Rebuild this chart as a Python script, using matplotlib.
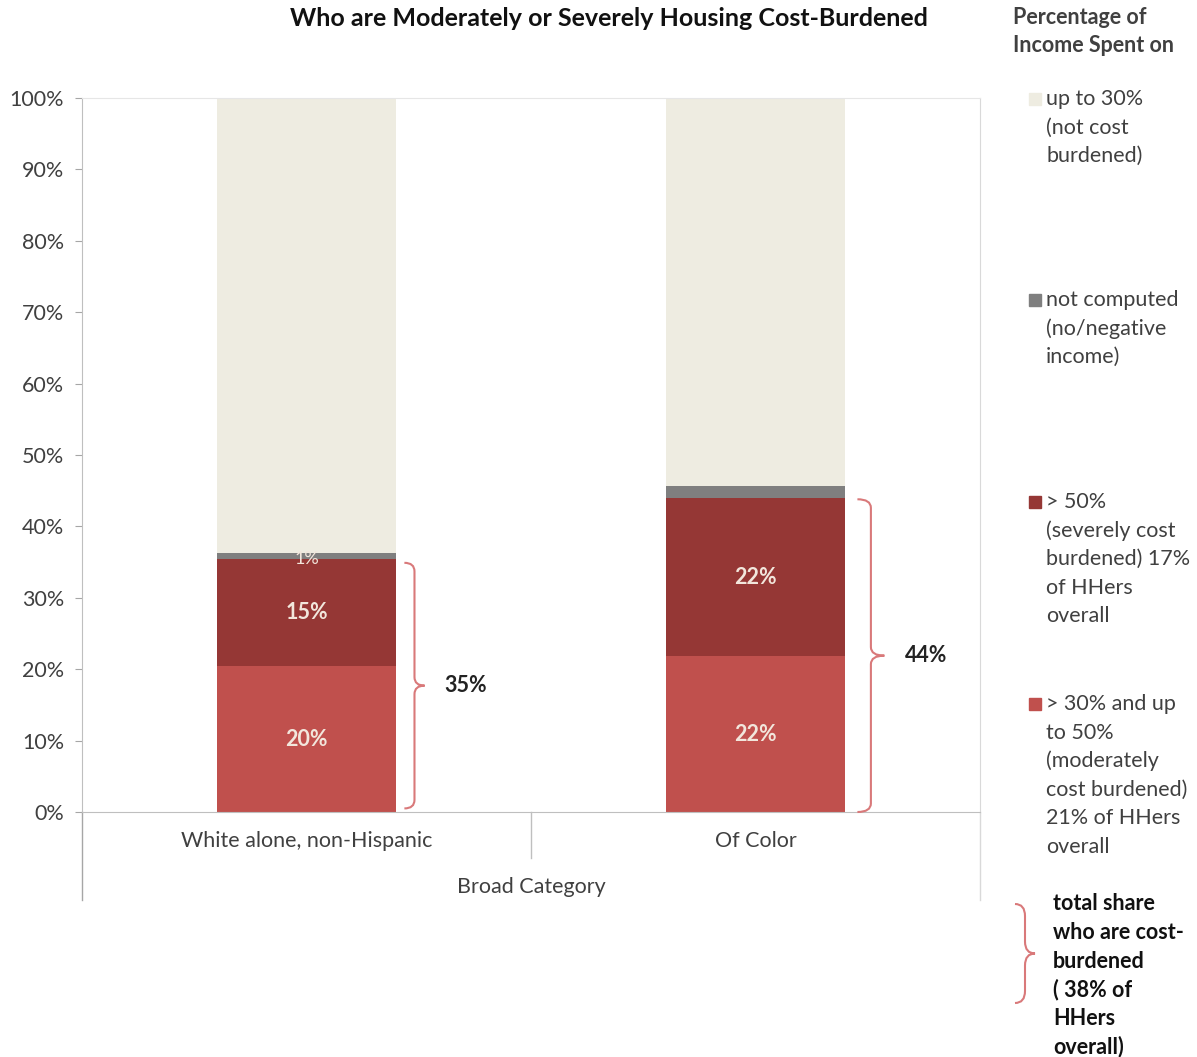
import matplotlib.pyplot as plt
from matplotlib.path import Path
from matplotlib.patches import PathPatch
import numpy as np

# ---------------- data ----------------
categories = ['White alone, non-Hispanic', 'Of Color']
moderate = [20.4, 21.8]      # > 30% and up to 50%
severe = [15.0, 22.2]        # > 50%
not_computed = [0.9, 1.7]
not_burdened = [63.7, 54.3]  # up to 30%
mod_labels = ['20%', '22%']
sev_labels = ['15%', '22%']
nc_labels = ['1%', '']
total_labels = ['35%', '44%']
total_burdened = [34.9, 43.8]

c_beige = '#eeece1'
c_gray = '#7f7f7f'
c_dark = '#953735'
c_red = '#c0504d'
c_brace = '#d9797a'
c_text = '#404040'
c_lab = '#f2e6dc'

plt.rcParams['font.family'] = ['Lato', 'DejaVu Sans']
fs = 15.5

fig = plt.figure(figsize=(11.97, 10.57), dpi=100)
W, H = 1197, 1057
ax = fig.add_axes([82 / W, 1 - 812 / H, 898 / W, 714 / H])

x = np.array([0.5, 1.5])
bw = 0.4
ax.bar(x, moderate, bw, color=c_red, zorder=2)
b1 = np.array(moderate)
ax.bar(x, severe, bw, bottom=b1, color=c_dark, zorder=2)
b2 = b1 + np.array(severe)
ax.bar(x, not_computed, bw, bottom=b2, color=c_gray, zorder=2)
b3 = b2 + np.array(not_computed)
ax.bar(x, not_burdened, bw, bottom=b3, color=c_beige, zorder=2)

for i in range(2):
    ax.text(x[i], moderate[i] / 2, mod_labels[i], ha='center', va='center',
            color=c_lab, fontsize=fs, fontweight='bold', zorder=3)
    ax.text(x[i], b1[i] + severe[i] / 2, sev_labels[i], ha='center', va='center',
            color=c_lab, fontsize=fs, fontweight='bold', zorder=3)
    if nc_labels[i]:
        ax.text(x[i], b2[i] + 0.1, nc_labels[i], ha='center', va='center',
                color=c_lab, fontsize=13, zorder=3)


def brace_path(x0, w, y0, y1, r):
    ym = (y0 + y1) / 2
    xm = x0 + w / 2
    verts = [(x0, y1), (xm, y1), (xm, y1 - r),
             (xm, ym + r),
             (xm, ym), (x0 + w, ym),
             (xm, ym), (xm, ym - r),
             (xm, y0 + r),
             (xm, y0), (x0, y0)]
    codes = [Path.MOVETO, Path.CURVE3, Path.CURVE3,
             Path.LINETO,
             Path.CURVE3, Path.CURVE3,
             Path.CURVE3, Path.CURVE3,
             Path.LINETO,
             Path.CURVE3, Path.CURVE3]
    return Path(verts, codes)


# brace positions next to bars (data units)
brace_x = [0.718, 1.727]
brace_w = [0.045, 0.06]
brace_bottom = [0.5, 0.0]
for i in range(2):
    p = brace_path(brace_x[i], brace_w[i], brace_bottom[i], total_burdened[i], 1.2)
    ax.add_patch(PathPatch(p, fill=False, ec=c_brace, lw=1.5, clip_on=False, zorder=3))
    ax.text(brace_x[i] + brace_w[i] + 0.045, (brace_bottom[i] + total_burdened[i]) / 2,
            total_labels[i], ha='left', va='center', fontsize=fs,
            fontweight='bold', color='#222222')

ax.set_xlim(0, 2)
ax.set_ylim(0, 100)
ax.set_yticks(np.arange(0, 101, 10))
ax.set_yticklabels([f'{v}%' for v in range(0, 101, 10)], fontsize=fs, color=c_text)
ax.set_xticks([])
ax.tick_params(axis='y', length=5, color='#a6a6a6', pad=8)
for s in ['left', 'bottom', 'top', 'right']:
    ax.spines[s].set_color('#bfbfbf')
ax.spines['top'].set_color('#e6e6e6')
ax.spines['right'].set_color('#d9d9d9')

# category axis lines below the plot
trans = ax.transAxes
drop = (900 - 812) / 714
ax.plot([0, 0], [0, -drop], color='#a6a6a6', lw=1, transform=trans, clip_on=False)
ax.plot([1, 1], [0, -drop], color='#d9d9d9', lw=1, transform=trans, clip_on=False)
ax.plot([0.5, 0.5], [0, -(858 - 812) / 714], color='#bfbfbf', lw=1,
        transform=trans, clip_on=False)
for i in range(2):
    ax.text(x[i] / 2, -(841 - 812) / 714, categories[i], transform=trans,
            ha='center', va='center', fontsize=fs, color=c_text)
ax.text(0.5, -(887 - 812) / 714, 'Broad Category', transform=trans,
        ha='center', va='center', fontsize=fs, color=c_text)

# title
fig.text(609 / W, 1 - 19 / H, 'Who are Moderately or Severely Housing Cost-Burdened',
         ha='center', va='center', fontsize=18, fontweight='bold', color='#111111')

# legend (drawn by hand)
lstep = 28.6
fig.text(1013 / W, 1 - 17 / H, 'Percentage of', ha='left', va='center',
         fontsize=fs, fontweight='bold', color=c_text)
fig.text(1013 / W, 1 - 45 / H, 'Income Spent on', ha='left', va='center',
         fontsize=fs, fontweight='bold', color=c_text)

legend_items = [
    (c_beige, 99, ['up to 30%', '(not cost', 'burdened)']),
    (c_gray, 300, ['not computed', '(no/negative', 'income)']),
    (c_dark, 502, ['> 50%', '(severely cost', 'burdened) 17%', 'of HHers', 'overall']),
    (c_red, 704, ['> 30% and up', 'to 50%', '(moderately', 'cost burdened)',
                  '21% of HHers', 'overall']),
]
for col, y0, lines in legend_items:
    fig.patches.append(plt.Rectangle((1029 / W, 1 - (y0 + 6) / H), 12 / W, 12 / H,
                                     transform=fig.transFigure, color=col))
    for k, line in enumerate(lines):
        fig.text(1046 / W, 1 - (y0 + k * lstep) / H, line, ha='left', va='center',
                 fontsize=fs, color=c_text)

total_lines = ['total share', 'who are cost-', 'burdened', '( 38% of', 'HHers', 'overall)']
for k, line in enumerate(total_lines):
    fig.text(1053 / W, 1 - (904 + k * lstep) / H, line, ha='left', va='center',
             fontsize=fs, fontweight='bold', color='#111111')

# legend brace in figure fraction coords
lb = brace_path(1015 / W, 20 / W, 1 - 1003 / H, 1 - 904 / H, 12 / H)
fig.patches.append(PathPatch(lb, fill=False, ec=c_brace, lw=1.5,
                             transform=fig.transFigure))

fig.savefig('out.png', dpi=100)
